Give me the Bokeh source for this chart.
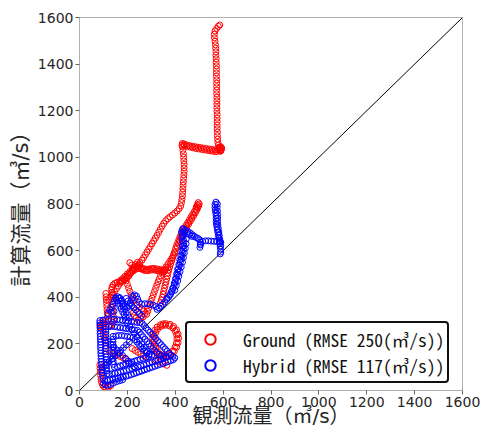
from bokeh.plotting import figure
from bokeh.models import Range1d, FixedTicker, Legend, LegendItem
from bokeh.embed import file_html
from bokeh.resources import INLINE

# ---------------- data ----------------
ticks = [0, 200, 400, 600, 800, 1000, 1200, 1400, 1600]
one_to_one = [0, 1600]

x_title = "観測流量（㎥/s）"
y_title = "計算流量（㎥/s）"
ground_label = "Ground (RMSE 250(㎥/s))"
hybrid_label = "Hybrid (RMSE 117(㎥/s))"

ground_top = [(586,1568),(580,1562),(573,1553),(566,1542),(563,1528),(564,1513),(566,1498),(568,1483),
    (569,1468),(570,1453),(570,1438),(571,1423),(571,1408),(572,1393),(572,1378),(572,1363),(572,1348),
    (573,1333),(573,1318),(573,1303),(573,1288),(573,1273),(574,1258),(574,1243),(574,1228),(574,1213),
    (574,1198),(575,1183),(575,1168),(575,1153),(575,1138),(575,1123),(576,1108),(576,1093),(577,1078),
    (578,1064),(580,1052),(584,1044),(589,1040),(592,1034),(590,1028),(586,1030),(582,1036),(584,1042),
    (590,1046),(594,1040),(592,1032),(588,1026)]
ground_step = [(578,1030),(566,1032),(554,1034),(542,1036),(530,1038),(518,1040),(506,1042),(494,1044),
    (482,1046),(470,1048),(458,1051),(446,1054),(436,1057),(430,1060),(428,1052),(438,1050),(450,1047),
    (462,1044),(474,1041),(486,1038),(498,1036),(510,1034),(522,1032),(534,1030),(546,1028),(558,1026),(570,1024)]
ground_fall = [(430,1045),(432,1030),(434,1015),(435,1000),(436,985),(437,970),(437,955),(437,940),(436,925),
    (435,910),(434,895),(433,880),(432,865),(431,850),(430,835),(428,820),(426,806),(423,792),(416,780),
    (408,770),(398,761),(388,753),(378,745),(369,737),(360,728),(352,717),(345,705),(338,692),(331,679),
    (324,666),(317,654),(310,642),(303,630),(296,618),(289,606),(282,594),(275,582),(268,570),(261,559),
    (253,548),(245,538),(237,529),(228,521),(220,513),(213,503),(207,492),(199,482),(189,475),(178,470),
    (167,467),(157,464),(148,460),(141,453),(136,444),(134,433),(136,421),(139,409),(140,396),(139,383),
    (137,370),(136,357),(137,344),(139,331),(141,318),(143,305),(140,292),(134,282),(126,276),(118,300),
    (108,296),(98,290),(90,282),(86,272)]
ground_wave = [(171,472),(180,480),(190,490),(200,500),(210,510),(220,520),(230,528),(240,532),(250,530),
    (260,526),(270,522),(280,520),(290,521),(300,523),(310,524),(320,522),(330,520),(340,518),(350,516),
    (360,520),(368,528),(175,466),(185,476),(195,486),(205,496),(215,505),(225,513),(235,520),(245,524),
    (255,522),(265,518),(275,514),(285,514),(295,516),(305,518),(315,516),(325,514),(335,512),(345,510),
    (355,512),(210,548),(218,538),(226,528),(234,540),(242,550),(250,540)]
ground_upper = [(496,806),(500,800),(498,792),(492,796),(488,788),(494,784),(486,778),(480,768),(473,756),
    (466,744),(459,732),(452,720),(445,708),(438,696),(432,684),(426,672),(420,660),(415,647),(410,634),
    (405,621),(401,608),(397,595),(393,582),(389,569),(385,556),(381,543),(377,530),(373,517),(370,504),
    (367,491),(364,478),(361,465),(358,452),(355,439),(352,426),(349,413),(346,400),(342,388),(338,376),
    (490,774),(484,762),(477,750),(470,738),(463,726),(456,714),(449,702),(442,690),(436,678),(430,666),
    (424,654),(419,641),(414,628),(409,615)]
ground_mid = [(398,590),(392,578),(385,566),(377,554),(369,542),(361,530),(353,518),(346,505),(339,492),
    (333,479),(328,466),(323,452),(318,438),(313,424),(308,410),(303,396),(298,382),(293,368),(289,354),
    (285,340),(281,327)]
ground_loop = [(360,287),(378,284),(393,275),(405,260),(412,242),(414,224),(412,205),(406,186),(396,168),
    (382,153),(366,144),(350,142),(336,148),(324,158),(315,172),(309,188),(306,206),(306,224),(308,242),
    (314,258),(324,272),(338,282),(350,286),(360,280),(376,277),(390,268),(400,254),(406,238),(407,222),
    (405,204),(399,186),(390,170),(377,157),(362,150),(348,150),(336,156),(326,166),(319,180),(314,196),
    (313,214),(314,232),(318,248),(326,262),(338,274),(348,279)]
ground_low = [(110,416),(111,402),(112,388),(113,374),(114,360),(115,346),(116,332),(117,318),(122,388),
    (130,400),(138,412),(146,424),(154,436),(162,448),(170,460),(195,470),(200,455),(205,440),(210,425),
    (216,410),(222,398),(230,388),(225,386),(240,365),(250,358),(260,350),(268,340),(272,328),(266,316),
    (256,308),(246,302),(236,310),(230,322),(226,336),(110,180),(122,172),(134,164),(146,158),(158,152),
    (170,146),(182,140),(194,134),(220,180),(232,172),(244,164),(256,156),(268,150),(280,144),(320,130),
    (335,122),(350,114),(365,108),(85,110),(86,95),(87,80),(88,65),(90,50),(92,36),(96,24),(102,16),
    (110,12),(120,14),(130,20),(100,300),(98,285),(97,270),(98,255),(100,240),(103,225),(106,212)]

hybrid_top = [(570,808),(566,798),(566,786),(567,774),(569,762),(571,750),(571,738),(571,726),(572,714),
    (574,702),(576,690),(578,678),(580,666),(582,654),(584,642),(586,630),(588,618),(589,606),(590,594),
    (588,586),(576,800),(575,785),(576,770),(577,755),(577,740),(577,725),(578,710),(580,695),(582,680),
    (584,665),(586,650),(588,636),(590,622)]
hybrid_step = [(432,694),(442,688),(452,682),(462,676),(472,668),(480,661),(488,656),(496,652),(502,646),
    (506,636),(505,624),(503,614),(506,628),(514,640),(526,642),(538,642),(550,641),(562,640),(574,639),
    (584,638),(590,636),(440,680),(450,674),(460,668),(470,661)]
hybrid_diag = [(430,690),(432,676),(433,662),(434,648),(435,634),(436,620),(434,606),(431,592),(428,578),
    (425,564),(421,550),(418,536),(414,522),(411,508),(408,494),(404,480),(400,466),(396,452),(391,438),
    (386,425),(380,412),(372,400),(364,390),(356,380),(348,370),(340,362),(332,354),(324,348),(426,680),
    (428,660),(430,640),(430,620),(427,600),(423,580),(419,560),(415,540),(410,520),(406,500),(401,480),
    (396,460),(390,440),(384,424),(376,408),(366,396),(446,650),(445,630),(442,610),(438,590),(434,570),
    (430,550),(425,530),(420,510),(415,490),(410,470),(404,450),(398,430)]
hybrid_bumps = [(320,360),(308,366),(296,370),(284,372),(272,372),(260,370),(250,378),(243,392),(238,405),
    (230,410),(222,404),(218,390),(214,376),(208,364),(200,356),(190,360),(182,372),(176,386),(168,398),
    (160,402),(152,396),(146,384),(140,370),(134,356),(126,346),(150,398),(156,386),(162,374),(168,362),
    (174,350),(180,338),(186,326),(192,314),(165,396),(171,384),(177,372),(183,360),(189,348),(195,336),
    (201,324),(207,312),(195,395),(203,384),(211,374),(219,364),(227,354),(235,346),(243,338),(251,330),
    (259,322),(120,330),(132,336),(144,340)]
hybrid_outer = [(85,300),(97,302),(109,304),(121,305),(133,306),(145,305),(157,304),(169,302),(181,300),
    (193,299),(205,297),(217,296),(229,294),(241,292),(253,291),(262,288),(270,278),(278,268),(286,259),
    (294,250),(302,241),(310,232),(318,223),(326,214),(334,205),(342,196),(350,187),(358,178),(366,169),
    (374,160),(382,152),(390,146),(398,140),(392,132),(381,128),(370,124),(359,120),(348,116),(337,112),
    (326,108),(315,104),(304,100),(293,96),(282,92),(271,88),(260,84),(249,80),(238,76),(227,72),(216,68),
    (205,64),(194,61),(183,58),(172,55),(161,52),(150,50),(139,47),(128,45),(117,43),(106,41),(98,52),
    (96,64),(95,76),(94,88),(93,100),(92,112),(91,124),(90,136),(90,148),(89,160),(89,172),(88,184),
    (88,196),(88,208),(87,220),(87,232),(86,244),(86,256),(86,268),(85,280),(85,290)]
hybrid_middle = [(110,272),(122,274),(134,275),(146,274),(158,272),(170,270),(182,268),(194,266),(206,264),
    (218,262),(230,260),(242,258),(250,250),(258,240),(266,230),(274,220),(282,210),(290,200),(298,190),
    (306,180),(314,170),(322,162),(332,155),(342,150),(352,146),(362,144),(352,138),(340,134),(328,130),
    (316,126),(304,122),(292,118),(280,114),(268,110),(256,106),(244,102),(232,98),(220,94),(208,90),
    (196,86),(184,83),(172,80),(160,77),(148,74),(136,72),(124,70),(116,72),(114,84),(113,96),(112,108),
    (112,120),(111,132),(111,144),(110,156),(110,168),(110,180),(110,192),(110,204),(110,216),(110,228),
    (110,240),(110,252),(110,262)]
hybrid_inner = [(140,232),(152,234),(164,236),(176,236),(188,234),(200,232),(212,230),(224,228),(232,218),
    (240,208),(248,198),(256,188),(264,178),(272,170),(282,162),(292,156),(302,152),(290,146),(278,142),
    (266,138),(254,134),(242,130),(230,126),(218,122),(206,118),(194,114),(182,110),(170,106),(158,102),
    (146,100),(142,112),(141,124),(140,136),(140,148),(140,160),(140,172),(140,184),(140,196),(140,208),
    (140,220),(100,100),(112,112),(124,124),(136,136),(148,148),(160,160),(172,172),(184,184),(196,196),
    (208,208),(120,210),(132,198),(144,186),(156,174),(168,162),(180,150),(192,138),(204,126),(216,114),
    (228,102),(200,290),(210,275),(220,260),(230,245),(240,230),(250,215),(260,200),(270,185),(280,170),
    (290,155),(100,30),(108,24),(118,22),(130,26),(142,32),(155,38),(168,42),(180,46)]

ground_segments = [ground_top, ground_step, ground_fall, ground_wave, ground_upper, ground_mid,
                   ground_loop, ground_low]
hybrid_segments = [hybrid_top, hybrid_step, hybrid_diag, hybrid_bumps, hybrid_outer, hybrid_middle,
                   hybrid_inner]

def split(segs):
    xs, ys = [], []
    for s in segs:
        for x, y in s:
            xs.append(x)
            ys.append(y)
    return xs, ys

gx, gy = split(ground_segments)
hx, hy = split(hybrid_segments)

# ---------------- figure ----------------
p = figure(width=480, height=430, output_backend="svg", toolbar_location=None,
           x_range=Range1d(0, 1600), y_range=Range1d(0, 1600),
           min_border_left=79, min_border_right=18, min_border_top=17, min_border_bottom=40)
p.grid.visible = False
p.outline_line_color = "#b0b0b0"
p.outline_line_width = 1
p.background_fill_color = "white"
p.border_fill_color = "white"

# Latin-metric font first (compact line box), CJK glyphs come from the Noto CJK fallback
title_font = "'DejaVu Sans', 'Noto Sans Mono CJK JP', 'Noto Sans CJK JP'"
for ax in (p.xaxis, p.yaxis):
    ax.ticker = FixedTicker(ticks=ticks)
    ax.axis_line_color = "#b0b0b0"
    ax.major_tick_line_color = "#666666"
    ax.major_tick_out = 4
    ax.major_tick_in = 0
    ax.minor_tick_line_color = None
    ax.major_label_standoff = 2
    ax.major_label_text_font = "DejaVu Sans"
    ax.major_label_text_font_size = "14px"
    ax.major_label_text_color = "#262626"
    ax.axis_label_text_font = title_font
    ax.axis_label_text_font_style = "normal"
    ax.axis_label_text_color = "#262626"

p.yaxis.axis_label = y_title
p.yaxis.axis_label_text_font_size = "21px"
p.yaxis.axis_label_standoff = 2

p.xaxis.axis_label = x_title
p.xaxis.axis_label_text_font_size = "20px"
p.xaxis.axis_label_standoff = -6

p.line(one_to_one, one_to_one, line_color="black", line_width=1)

p.scatter(gx, gy, size=6, marker="circle", fill_color=None, line_color="#ff0000", line_width=1)
p.scatter(hx, hy, size=6, marker="circle", fill_color=None, line_color="#0000ff", line_width=1)

# legend-only renderers (no visible data; thicker circles like the reference legend)
nan = float("nan")
lg = p.scatter([nan], [nan], marker="circle", fill_color=None, line_color="#ff0000", line_width=2)
lh = p.scatter([nan], [nan], marker="circle", fill_color=None, line_color="#0000ff", line_width=2)

legend = Legend(items=[LegendItem(label=ground_label, renderers=[lg]),
                       LegendItem(label=hybrid_label, renderers=[lh])],
                location=(106, 7), margin=0, padding=3, spacing=0,
                glyph_width=40, glyph_height=26, label_height=26, label_standoff=13,
                label_text_font="'Noto Sans Mono CJK JP', 'DejaVu Sans Mono', monospace",
                label_text_font_size="17.5px", label_text_color="#111111",
                border_line_color="#111111", border_line_width=2, border_line_alpha=1,
                background_fill_color="white", background_fill_alpha=1)
if "border_radius" in Legend.properties():
    legend.border_radius = 4
p.add_layout(legend)

open("out.html", "w").write(file_html(p, INLINE))
